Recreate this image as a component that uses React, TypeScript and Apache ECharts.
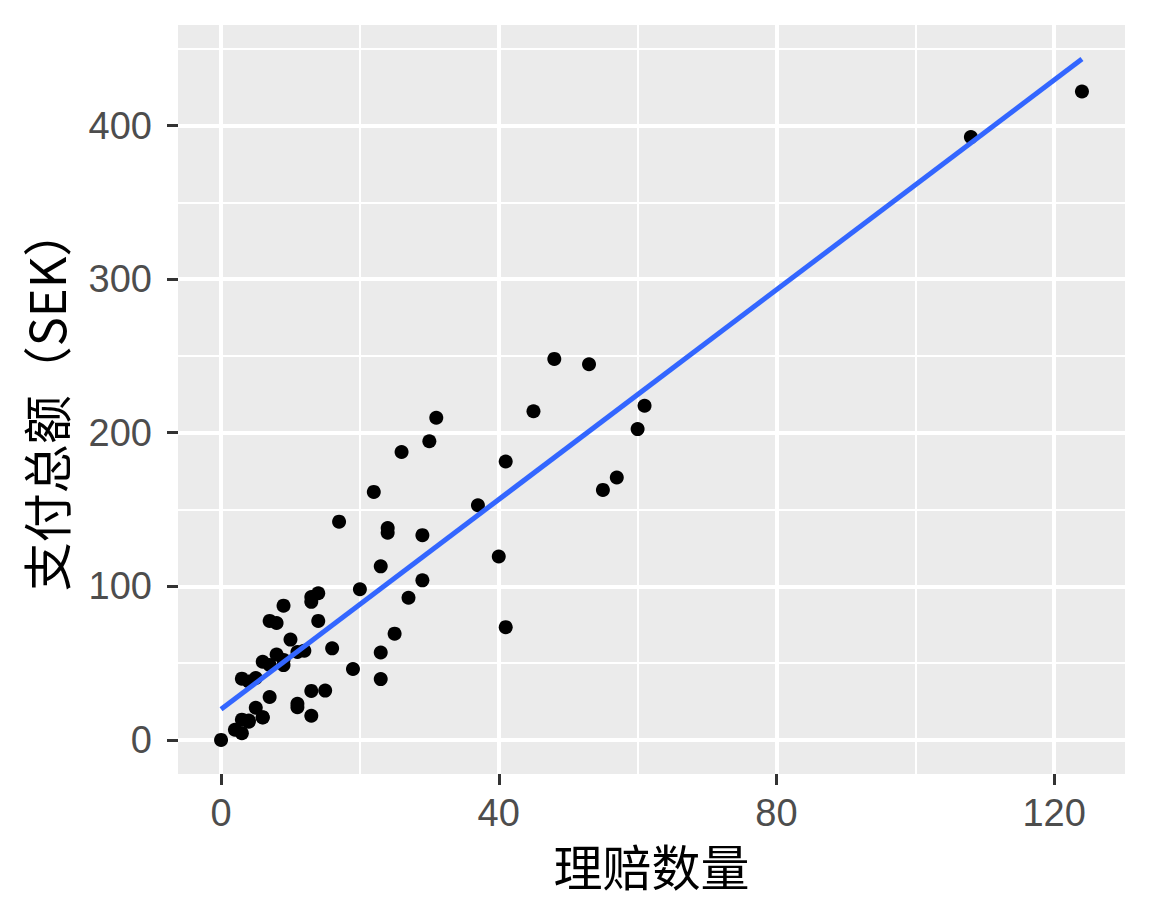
import { useEffect, useRef } from 'react';
import * as echarts from 'echarts';

// Swedish auto insurance: number of claims vs. total payment (thousand SEK)
const claims = [
  108, 19, 13, 124, 40, 57, 23, 14, 45, 10, 5, 48, 11, 23, 7, 2, 24, 6, 3, 23, 6,
  9, 9, 3, 29, 7, 4, 20, 7, 4, 0, 25, 6, 5, 22, 11, 61, 12, 4, 16, 13, 60, 41, 37,
  55, 41, 11, 27, 8, 3, 17, 13, 13, 15, 8, 29, 30, 24, 9, 31, 14, 53, 26,
];
const payments = [
  392.5, 46.2, 15.7, 422.2, 119.4, 170.9, 56.9, 77.5, 214, 65.3, 20.9, 248.1, 23.5,
  39.6, 48.8, 6.6, 134.9, 50.9, 4.4, 113, 14.8, 48.7, 52.1, 13.2, 103.9, 77.5, 11.8,
  98.1, 27.9, 38.1, 0, 69.2, 14.6, 40.3, 161.5, 57.2, 217.6, 58.1, 12.6, 59.6, 89.9,
  202.4, 181.3, 152.8, 162.8, 73.4, 21.3, 92.6, 76.1, 39.9, 142.1, 93, 31.9, 32.1,
  55.6, 133.3, 194.5, 137.9, 87.4, 209.8, 95.5, 244.6, 187.5,
];

// fitted line ends (geom_smooth, method = lm)
const fitX = [0, 124];
const fitY = [20.0, 443.3];

const xTicks = [0, 40, 80, 120];
const xMinor = [20, 60, 100];
const yTicks = [0, 100, 200, 300, 400];
const yMinor = [50, 150, 250, 350, 450];

export default function App() {
  const chartRef = useRef<HTMLDivElement>(null);

  useEffect(() => {
    if (!chartRef.current) return;
    const chart = echarts.init(chartRef.current, null, { renderer: 'svg' });

    // ggplot-style white grid, drawn as mark lines
    const gridLines = [
      ...xTicks.map(v => ({ xAxis: v, lineStyle: { width: 4 } })),
      ...xMinor.map(v => ({ xAxis: v, lineStyle: { width: 2 } })),
      ...yTicks.map(v => ({ yAxis: v, lineStyle: { width: 4 } })),
      ...yMinor.map(v => ({ yAxis: v, lineStyle: { width: 2 } })),
    ];

    const labelFont = "'Liberation Sans', Arial, sans-serif";
    const titleFont = "'Noto Sans CJK SC', sans-serif";

    chart.setOption({
      animation: false,
      grid: {
        left: 178,
        right: 27,
        top: 25,
        bottom: 148,
        show: true,
        backgroundColor: '#EBEBEB',
        borderWidth: 0,
      },
      xAxis: {
        type: 'value',
        min: -6.2,
        max: 130.2,
        name: '理赔数量',
        nameLocation: 'middle',
        nameGap: 66,
        nameTextStyle: { fontSize: 49, color: '#000', fontFamily: titleFont },
        axisLine: { show: false, onZero: false },
        splitLine: { show: false },
        axisTick: {
          show: true,
          length: 11,
          customValues: xTicks,
          lineStyle: { color: '#333', width: 3 },
        },
        axisLabel: {
          customValues: xTicks,
          margin: 20,
          fontSize: 38,
          color: '#4D4D4D',
          fontFamily: labelFont,
        },
      },
      yAxis: {
        type: 'value',
        min: -22.2,
        max: 465.5,
        name: '支付总额（SEK）',
        nameLocation: 'middle',
        nameGap: 109,
        nameTextStyle: { fontSize: 49, color: '#000', fontFamily: titleFont },
        axisLine: { show: false, onZero: false },
        splitLine: { show: false },
        axisTick: {
          show: true,
          length: 11,
          customValues: yTicks,
          lineStyle: { color: '#333', width: 3 },
        },
        axisLabel: {
          customValues: yTicks,
          margin: 26,
          fontSize: 38,
          color: '#4D4D4D',
          fontFamily: labelFont,
        },
      },
      series: [
        {
          type: 'line',
          data: [],
          silent: true,
          markLine: {
            silent: true,
            symbol: 'none',
            z: 1,
            label: { show: false },
            emphasis: { disabled: true },
            lineStyle: { color: '#FFFFFF', type: 'solid' },
            data: gridLines,
          },
        },
        {
          type: 'scatter',
          data: claims.map((c, i) => [c, payments[i]]),
          symbolSize: 14,
          itemStyle: { color: '#000000', opacity: 1 },
          z: 3,
        },
        {
          type: 'line',
          data: fitX.map((x, i) => [x, fitY[i]]),
          symbol: 'none',
          lineStyle: { color: '#3366FF', width: 5 },
          z: 4,
        },
      ],
    });

    return () => {
      chart.dispose();
    };
  }, []);

  return (
    <div
      ref={chartRef}
      style={{ position: 'fixed', left: 0, top: 0, width: '1152px', height: '922px', background: '#fff' }}
    />
  );
}
